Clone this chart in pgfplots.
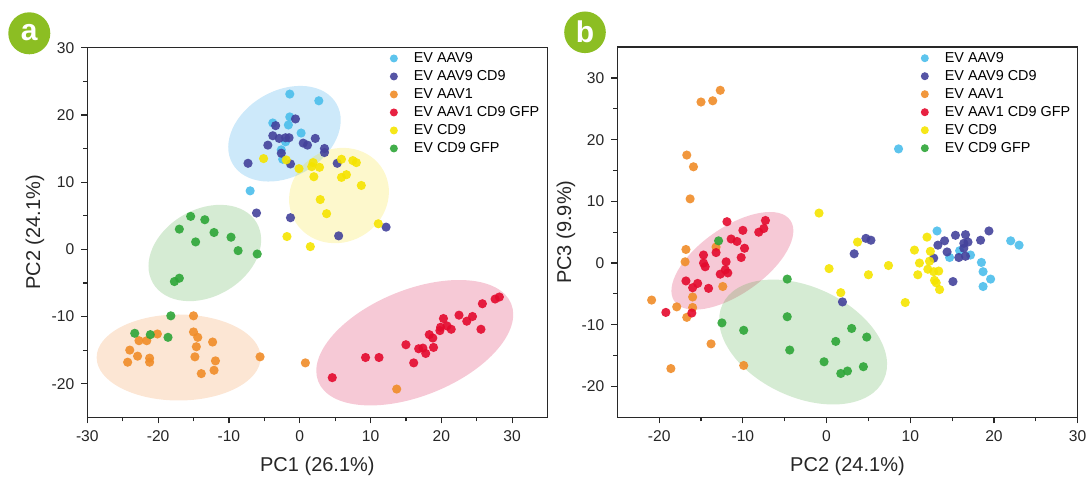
\documentclass[border=0pt]{standalone}
\usepackage{fontspec}
\setmainfont{Liberation Sans}
\usepackage{pgfplots}
\pgfplotsset{compat=1.18}
\definecolor{cAAV9}{RGB}{75,190,235}
\definecolor{cAAV9CD9}{RGB}{68,66,155}
\definecolor{cAAV1}{RGB}{240,140,40}
\definecolor{cRED}{RGB}{228,10,45}
\definecolor{cYEL}{RGB}{245,228,0}
\definecolor{cGRN}{RGB}{45,165,55}
\definecolor{badge}{RGB}{140,190,35}
\definecolor{axgray}{RGB}{40,40,40}
\definecolor{eBlue}{RGB}{70,175,235}
\definecolor{eYel}{RGB}{245,220,0}
\definecolor{eGrn}{RGB}{80,170,70}
\definecolor{eOrg}{RGB}{240,140,60}
\definecolor{ePink}{RGB}{220,40,90}
\pgfplotsset{
  pts/.style={only marks, mark=*, mark size=2.3pt, color=#1, mark options={draw opacity=0, fill opacity=0.9}},
  pcastyle/.style={
    axis line style={axgray, line width=0.6pt},
    tick style={axgray, line width=0.6pt},
    tick align=outside, tick pos=left,
    major tick length=3pt, minor tick length=2pt,
    minor x tick num=1, minor y tick num=1,
    tick label style={font=\fontsize{7.8}{9}\selectfont, text=black!85},
    /pgf/number format/assume math mode=true,
    label style={font=\fontsize{10}{12}\selectfont, text=black!85},
    legend style={draw=none, fill=none, inner sep=0pt, outer sep=0pt,
      font=\fontsize{7.2}{8.6}\selectfont, row sep=2pt,
      nodes={inner sep=0pt, text height=5.4pt, text depth=1.4pt}},
    legend cell align=left,
    legend image code/.code={\path[draw=none, fill=none] (0pt,-3.5pt) rectangle (12pt,3.5pt);
      \draw[##1, mark size=2pt] plot coordinates {(2pt,0pt)};},
  }
}
\begin{document}
\begin{tikzpicture}
\path[use as bounding box] (0pt,0pt) rectangle (545.5pt,238.5pt);
% badges
\fill[badge] (14.65pt,221.85pt) circle (10.5pt);
\node[text=white, font=\bfseries\fontsize{15}{15}\selectfont] at (14.65pt,222.0pt) {a};
\fill[badge] (292.5pt,222.35pt) circle (10.4pt);
\node[text=white, font=\bfseries\fontsize{15}{15}\selectfont] at (292.5pt,222.8pt) {b};

% ---------------- panel a ----------------
\begin{axis}[pcastyle,
  at={(43.65pt,29.85pt)}, anchor=south west,
  x=3.54pt, y=3.36pt,
  xmin=-30, xmax=35, ymin=-25, ymax=30,
  xtick={-30,-20,...,30}, ytick={-20,-10,...,30},
  xlabel={PC1 (26.1\%)}, ylabel={PC2 (24.1\%)},
  xlabel style={at={(axis description cs:0.5,-0.1325)}, anchor=center},
  ylabel style={at={(axis description cs:-0.1136,0.5)}, anchor=center},
  legend style={at={(axis cs:13.3,28.4)}, anchor=north west, xshift=-2pt, yshift=3.5pt},
]
\fill[eBlue, fill opacity=0.27, rotate around={30:(axis cs:-2.15,17.2)}] (axis cs:-2.15,17.2) ellipse [x radius=30pt, y radius=21.5pt];
\fill[eYel, fill opacity=0.2, rotate around={30:(axis cs:5.55,8.0)}] (axis cs:5.55,8.0) ellipse [x radius=25.5pt, y radius=23.25pt];
\fill[eGrn, fill opacity=0.24, rotate around={30:(axis cs:-13.4,-0.55)}] (axis cs:-13.4,-0.55) ellipse [x radius=30pt, y radius=21.75pt];
\fill[eOrg, fill opacity=0.22] (axis cs:-17.1,-16.1) ellipse [x radius=41pt, y radius=21.5pt];
\fill[ePink, fill opacity=0.25, rotate around={22:(axis cs:16.25,-13.9)}] (axis cs:16.25,-13.9) ellipse [x radius=52pt, y radius=26.5pt];

\addplot[pts=cAAV9] coordinates {
(-1.4,23.1) (2.7,22.1) (-3.8,18.8) (-1.4,19.7) (-1.6,18.5) (0.2,17.3)
(-2.0,16.0) (-2.6,14.8) (-2.4,13.4) (-7.0,8.7)};
\addlegendentry{EV AAV9}
\addplot[pts=cAAV9CD9] coordinates {
(-0.6,19.4) (-3.4,18.4) (-3.8,16.9) (-2.9,16.5) (-2.0,16.6) (-1.5,16.6)
(-4.5,15.5) (0.5,15.8) (1.1,15.5) (2.2,16.5) (3.5,15.0) (3.5,14.4)
(-2.6,14.3) (-1.3,12.7) (-7.3,12.8) (-6.1,5.4) (-1.3,4.7) (5.3,12.8)
(12.2,3.3) (5.5,2.0)};
\addlegendentry{EV AAV9 CD9}
\addplot[pts=cAAV1] coordinates {
(-15.0,-9.9) (-20.1,-12.6) (-22.7,-13.6) (-21.6,-13.6) (-15.0,-12.3)
(-14.4,-13.1) (-12.3,-13.8) (-14.6,-14.5) (-24.0,-15.0) (-22.9,-15.9)
(-21.2,-16.2) (-21.2,-16.8) (-24.3,-16.8) (-14.8,-16.0) (-11.9,-16.6)
(-12.1,-18.0) (-13.9,-18.5) (-5.6,-16.0) (0.8,-16.9) (13.7,-20.8)};
\addlegendentry{EV AAV1}
\addplot[pts=cRED] coordinates {
(4.6,-19.1) (9.3,-16.1) (11.2,-16.1) (15.0,-14.2) (16.1,-16.9) (16.8,-14.8)
(17.4,-14.7) (17.8,-15.5) (18.9,-14.6) (18.3,-12.7) (18.8,-13.2) (19.8,-12.1)
(19.9,-11.6) (20.3,-10.3) (20.8,-11.4) (21.4,-11.9) (22.5,-9.8) (23.6,-10.7)
(24.4,-10.0) (25.6,-11.9) (25.8,-8.1) (27.6,-7.4) (28.2,-7.1)};
\addlegendentry{EV AAV1 CD9 GFP}
\addplot[pts=cYEL] coordinates {
(-5.1,13.5) (-1.9,13.3) (-0.1,12.0) (1.9,12.9) (1.7,12.3) (2.8,12.2)
(2.0,10.8) (2.9,7.4) (3.8,5.3) (-1.8,1.9) (1.5,0.4) (5.9,13.4) (7.5,13.2)
(8.0,12.9) (6.6,11.1) (5.9,10.7) (8.7,9.5) (11.1,3.8)};
\addlegendentry{EV CD9}
\addplot[pts=cGRN] coordinates {
(-15.4,4.9) (-13.4,4.4) (-17.0,3.0) (-12.1,2.5) (-14.7,1.1) (-9.7,1.8)
(-8.7,-0.2) (-6.0,-0.7) (-17.0,-4.3) (-17.7,-4.8) (-18.2,-9.9)
(-23.3,-12.5) (-21.1,-12.7) (-18.6,-13.1)};
\addlegendentry{EV CD9 GFP}
\end{axis}

% ---------------- panel b ----------------
\begin{axis}[pcastyle,
  at={(308.65pt,29.85pt)}, anchor=south west,
  x=4.185pt, y=3.085pt,
  xmin=-25, xmax=30, ymin=-25, ymax=35,
  xtick={-20,-10,...,30}, ytick={-20,-10,...,30},
  xlabel={PC2 (24.1\%)}, ylabel={PC3 (9.9\%)},
  xlabel style={at={(axis description cs:0.5,-0.1325)}, anchor=center},
  ylabel style={at={(axis description cs:-0.1114,0.5)}, anchor=center},
  legend style={at={(axis cs:11.74,33.2)}, anchor=north west, xshift=-2pt, yshift=3.5pt},
]
\fill[ePink, fill opacity=0.25, rotate around={35:(axis cs:-11.25,0.36)}] (axis cs:-11.25,0.36) ellipse [x radius=35.35pt, y radius=16.6pt];
\fill[eGrn, fill opacity=0.24, rotate around={-25:(axis cs:-2.8,-12.8)}] (axis cs:-2.8,-12.8) ellipse [x radius=44.5pt, y radius=27.5pt];

\addplot[pts=cAAV9] coordinates {
(13.2,5.2) (14.7,0.9) (15.9,2.0) (17.2,1.3) (18.5,0.1) (18.7,-1.4)
(19.6,-2.6) (18.7,-3.8) (22.0,3.6) (23.0,2.9) (8.6,18.5)};
\addlegendentry{EV AAV9}
\addplot[pts=cAAV9CD9] coordinates {
(4.7,4.0) (5.3,3.7) (3.3,1.5) (1.9,-6.3) (13.3,2.9) (14.1,3.6) (12.8,0.8)
(14.4,1.8) (15.4,4.5) (16.6,4.6) (16.9,3.4) (16.4,3.2) (16.4,2.4)
(15.8,0.9) (16.6,1.1) (18.4,3.7) (19.4,5.2) (15.1,-3.0)};
\addlegendentry{EV AAV9 CD9}
\addplot[pts=cAAV1] coordinates {
(-12.7,28.0) (-15.0,26.1) (-13.6,26.3) (-16.7,17.5) (-15.9,15.6)
(-16.3,10.4) (-16.8,2.2) (-16.9,0.2) (-13.2,2.6) (-12.4,-3.8) (-16.0,-5.5)
(-16.0,-7.2) (-16.7,-8.8) (-20.9,-6.0) (-17.9,-7.1) (-13.8,-13.1)
(-18.6,-17.1) (-9.9,-16.6)};
\addlegendentry{EV AAV1}
\addplot[pts=cRED] coordinates {
(-11.9,6.7) (-7.3,6.9) (-7.5,5.6) (-8.1,5.0) (-10.0,5.3) (-11.4,3.9)
(-10.7,3.5) (-9.8,2.4) (-13.2,1.7) (-14.7,1.3) (-10.2,0.9) (-14.7,0.0)
(-14.5,-0.6) (-12.0,0.2) (-12.7,-1.8) (-11.8,-1.6) (-12.1,-1.1)
(-16.8,-2.9) (-15.4,-3.3) (-16.0,-4.0) (-14.1,-4.1) (-19.2,-8.0) (-16.1,-8.1)};
\addlegendentry{EV AAV1 CD9 GFP}
\addplot[pts=cYEL] coordinates {
(-0.9,8.1) (3.7,3.4) (0.3,-0.9) (5.0,-1.9) (1.7,-4.8) (7.4,-0.4) (9.4,-6.4)
(10.5,2.1) (12.0,4.2) (12.4,1.9) (11.1,0.0) (12.3,0.3) (10.9,-1.9)
(12.1,-1.0) (12.8,-1.4) (13.4,-1.3) (12.9,-2.8) (13.1,-3.2) (13.5,-4.3)};
\addlegendentry{EV CD9}
\addplot[pts=cGRN] coordinates {
(-12.9,3.6) (-4.7,-2.6) (-4.7,-8.7) (-12.5,-9.7) (-9.9,-10.9) (-4.4,-14.1)
(-0.3,-16.0) (1.1,-12.7) (3.0,-10.6) (4.8,-12.0) (1.7,-17.9) (2.5,-17.5)
(4.4,-16.8)};
\addlegendentry{EV CD9 GFP}
\end{axis}
\end{tikzpicture}
\end{document}
